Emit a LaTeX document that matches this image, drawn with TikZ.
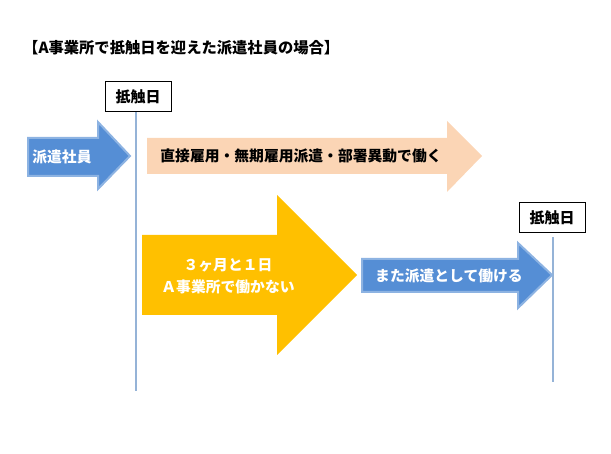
\documentclass[tikz,border=0pt]{standalone}
\usepackage{fontspec}
\newfontfamily\jp{Noto Sans CJK JP}
\definecolor{haken}{HTML}{558ED5}
\definecolor{hakenrim}{HTML}{8DB3E2}
\definecolor{peach}{HTML}{FBD5B5}
\definecolor{gold}{HTML}{FFC000}
\definecolor{tline}{HTML}{95B3D7}
\tikzset{
  jtext/.style={font=\jp\bfseries\fontsize{14.8}{18}\selectfont, inner sep=0pt},
  whitetext/.style={jtext, text=white},
  datebox/.style={draw=black, line width=1pt, fill=white, minimum width=66pt, minimum height=30pt, jtext, font=\jp\bfseries\fontsize{15}{18}\selectfont},
  timeline/.style={draw=tline, line width=1.5pt},
  bluearrow/.style={fill=haken, draw=hakenrim, line width=2pt, line join=miter},
  peacharrow/.style={fill=peach},
  goldarrow/.style={fill=gold},
}
\begin{document}
\begin{tikzpicture}[x=1pt,y=-1pt]
\path[use as bounding box] (0,0) rectangle (611,454);
% title
\node[jtext, anchor=west, font=\jp\bfseries\fontsize{15.3}{18}\selectfont] (title) at (23,48) {【A事業所で抵触日を迎えた派遣社員の場合】};
% timelines
\node[datebox] (d1) at (138,97) {抵触日};
\coordinate (l1end) at (136,391);
\draw[timeline] (d1.south -| l1end) -- (l1end);
\node[datebox] (d2) at (552,218) {抵触日};
\coordinate (l2end) at (553,382);
\draw[timeline] ([yshift=-4pt]d2.south -| l2end) -- (l2end);
% arrows
\path[bluearrow] (28,138) -- (98,138) -- (98,122) -- (130,156) -- (98,189) -- (98,176) -- (28,176) -- cycle;
\node[whitetext] (a1) at (62,157) {派遣社員};
\path[peacharrow] (147,138) -- (447,138) -- (447,121) -- (482,156) -- (447,192) -- (447,174) -- (147,174) -- cycle;
\node[jtext] (a2) at (301,156) {直接雇用・無期雇用派遣・部署異動で働く};
\path[goldarrow] (142,235) -- (277,235) -- (277,195) -- (357,275) -- (277,355) -- (277,315) -- (142,315) -- cycle;
\node[whitetext, align=center, font=\jp\bfseries\fontsize{14.8}{22}\selectfont] (a3) at (228,276) {３ヶ月と１日\\Ａ事業所で働かない};
\path[bluearrow] (362,259) -- (518,259) -- (518,243) -- (552,275) -- (518,308) -- (518,292) -- (362,292) -- cycle;
\node[whitetext] (a4) at (449,276) {また派遣として働ける};
\end{tikzpicture}
\end{document}
